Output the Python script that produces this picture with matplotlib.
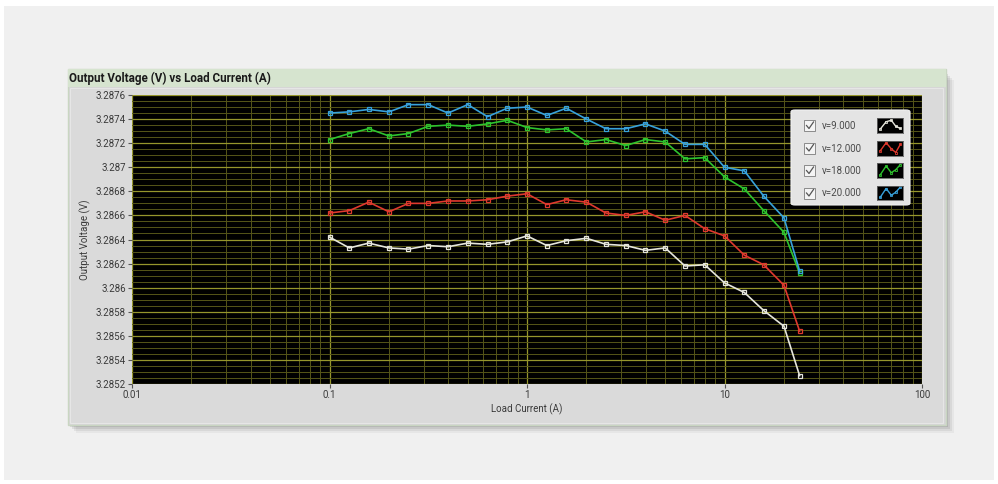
import matplotlib.pyplot as plt
import matplotlib.patches as mpatches
from matplotlib.ticker import FixedLocator, LogLocator, MultipleLocator, NullFormatter

plt.rcParams['font.family'] = ['Roboto', 'DejaVu Sans']

# load current (A), log spaced sweep
current = [0.1, 0.126, 0.158, 0.2, 0.251, 0.316, 0.398, 0.501, 0.631, 0.794,
           1.0, 1.26, 1.58, 2.0, 2.51, 3.16, 3.98, 5.01, 6.31, 7.94,
           10.0, 12.6, 15.8, 20.0, 24.0]

v9 = [3.28642, 3.28633, 3.28637, 3.28633, 3.28632, 3.28635, 3.28634, 3.28637, 3.28636, 3.28638,
      3.28643, 3.28635, 3.28639, 3.28641, 3.28636, 3.28635, 3.28631, 3.28633, 3.28618, 3.28619,
      3.28604, 3.28596, 3.28581, 3.28568, 3.28527]
v12 = [3.28662, 3.28664, 3.28671, 3.28663, 3.28670, 3.28670, 3.28672, 3.28672, 3.28673, 3.28676,
       3.28678, 3.28669, 3.28673, 3.28671, 3.28662, 3.28660, 3.28663, 3.28656, 3.28660, 3.28649,
       3.28643, 3.28627, 3.28619, 3.28602, 3.28564]
v18 = [3.28723, 3.28728, 3.28732, 3.28726, 3.28728, 3.28734, 3.28735, 3.28734, 3.28736, 3.28739,
       3.28733, 3.28731, 3.28732, 3.28721, 3.28723, 3.28718, 3.28723, 3.28721, 3.28707, 3.28708,
       3.28692, 3.28682, 3.28664, 3.28646, 3.28612]
v20 = [3.28745, 3.28746, 3.28748, 3.28746, 3.28752, 3.28752, 3.28745, 3.28752, 3.28742, 3.28749,
       3.28750, 3.28743, 3.28749, 3.28740, 3.28732, 3.28732, 3.28736, 3.28730, 3.28719, 3.28719,
       3.28700, 3.28697, 3.28676, 3.28658, 3.28614]

labels = ["v=9.000", "v=12.000", "v=18.000", "v=20.000"]
colors = ["#e6e6dc", "#e0392e", "#2ec42e", "#38a2dc"]
series = [v9, v12, v18, v20]

ytick_vals = [3.2852, 3.2854, 3.2856, 3.2858, 3.286, 3.2862, 3.2864,
              3.2866, 3.2868, 3.287, 3.2872, 3.2874, 3.2876]
xtick_vals = [0.01, 0.1, 1, 10, 100]

W, H = 998, 484
fig = plt.figure(figsize=(W / 100, H / 100), dpi=100, facecolor="white")


def px(x0, y0, x1, y1):
    # pixel box (top-left origin) -> figure fraction rect
    return (x0 / W, 1 - y1 / H, (x1 - x0) / W, (y1 - y0) / H)


def frect(x0, y0, x1, y1, **kw):
    l, b, w, h = px(x0, y0, x1, y1)
    r = mpatches.Rectangle((l, b), w, h, transform=fig.transFigure, **kw)
    fig.patches.append(r)
    return r


# page background
frect(4, 6, 994, 480, facecolor="#f0f0f0", edgecolor="none", zorder=0)
# shadow
for i, a in enumerate([0.10, 0.08, 0.06, 0.04]):
    d = 2 + i * 2
    frect(68 + d, 72 + d, 946 + d, 425 + d, facecolor="#000000", alpha=a, edgecolor="none", zorder=1)
# panel
frect(68, 69, 946, 425, facecolor="#d6d6d6", edgecolor="#c9d6c2", linewidth=1, zorder=2)
frect(70, 88, 943, 423, facecolor="#dadada", edgecolor="#e6e6e6", linewidth=0.8, zorder=2)
# title bar
frect(68, 69, 946, 87, facecolor="#d6e4cf", edgecolor="none", zorder=3)
fig.text(69 / W, 1 - 78 / H, "Output Voltage (V) vs Load Current (A)", fontsize=8.4,
         fontweight="bold", color="#1a1a1a", va="center", ha="left", zorder=4)

ax = fig.add_axes(px(132, 95, 922, 384), zorder=5)
ax.set_facecolor("black")
ax.set_xscale("log")
ax.set_xlim(0.01, 100)
ax.set_ylim(3.2852, 3.2876)

ax.xaxis.set_major_locator(FixedLocator(xtick_vals))
ax.set_xticklabels([str(t) for t in xtick_vals])
ax.xaxis.set_minor_locator(LogLocator(base=10, subs=range(2, 10)))
ax.xaxis.set_minor_formatter(NullFormatter())
ax.yaxis.set_major_locator(FixedLocator(ytick_vals))
ax.set_yticklabels([("%.4f" % t).rstrip("0") for t in ytick_vals])
ax.yaxis.set_minor_locator(MultipleLocator(0.00005))

ax.grid(which="major", color="#96962c", linewidth=0.9)
ax.grid(which="minor", color="#555518", linewidth=0.7)
ax.set_axisbelow(True)

ax.tick_params(which="major", length=3, width=0.8, color="#555555", labelsize=7,
               labelcolor="#3a3a3a", pad=1.5)
ax.tick_params(which="minor", length=0)
for s in ax.spines.values():
    s.set_visible(False)

for vals, c in zip(series, colors):
    ax.plot(current, vals, color=c, linewidth=1.2, marker="s", markersize=3.2,
            markerfacecolor="none", markeredgecolor=c, markeredgewidth=0.9, zorder=3)

ax.set_xlabel("Load Current (A)", fontsize=7, color="#3a3a3a", labelpad=2)
ax.set_ylabel("Output Voltage (V)", fontsize=7, color="#3a3a3a", labelpad=3)

# legend panel drawn like the LabVIEW plot legend
lb = px(791, 110, 910, 205)
leg_box = mpatches.FancyBboxPatch((lb[0], lb[1]), lb[2], lb[3],
                                  boxstyle="round,pad=0,rounding_size=0.004",
                                  transform=fig.transFigure, facecolor="#e4e4e4",
                                  edgecolor="#f2f2f2", linewidth=0.8, zorder=10)
fig.patches.append(leg_box)
swatch_shapes = [
    [0.25, 0.75, 0.85, 0.45, 0.3],
    [0.3, 0.85, 0.45, 0.2, 0.75],
    [0.2, 0.8, 0.35, 0.55, 0.9],
    [0.2, 0.8, 0.35, 0.55, 0.9],
]
for i, (lab, c) in enumerate(zip(labels, colors)):
    yc = 126 + i * 22.5
    # checkbox
    frect(804, yc - 6, 815, yc + 5, facecolor="#f4f4f4", edgecolor="#8a8a8a",
          linewidth=0.7, zorder=11)
    fig.lines.append(plt.Line2D([806.5 / W, 809 / W, 813.5 / W],
                                [1 - (yc - 0.5) / H, 1 - (yc + 2.5) / H, 1 - (yc - 4) / H],
                                transform=fig.transFigure, color="#555555", linewidth=0.9,
                                zorder=12))
    fig.text(822 / W, 1 - yc / H, lab, fontsize=7, color="#4a4a4a", va="center",
             ha="left", zorder=12)
    sw = fig.add_axes(px(877, yc - 8, 903, yc + 7), zorder=13)
    sw.set_facecolor("black")
    sw.plot([0.12, 0.35, 0.55, 0.72, 0.9], swatch_shapes[i],
            color=c, linewidth=1.0, marker="s", markersize=2, markerfacecolor="none",
            markeredgewidth=0.6)
    sw.set_xlim(0, 1)
    sw.set_ylim(0, 1)
    sw.set_xticks([])
    sw.set_yticks([])
    for s in sw.spines.values():
        s.set_edgecolor("#666666")
        s.set_linewidth(0.6)

fig.savefig("out.png", dpi=100, facecolor=fig.get_facecolor())
